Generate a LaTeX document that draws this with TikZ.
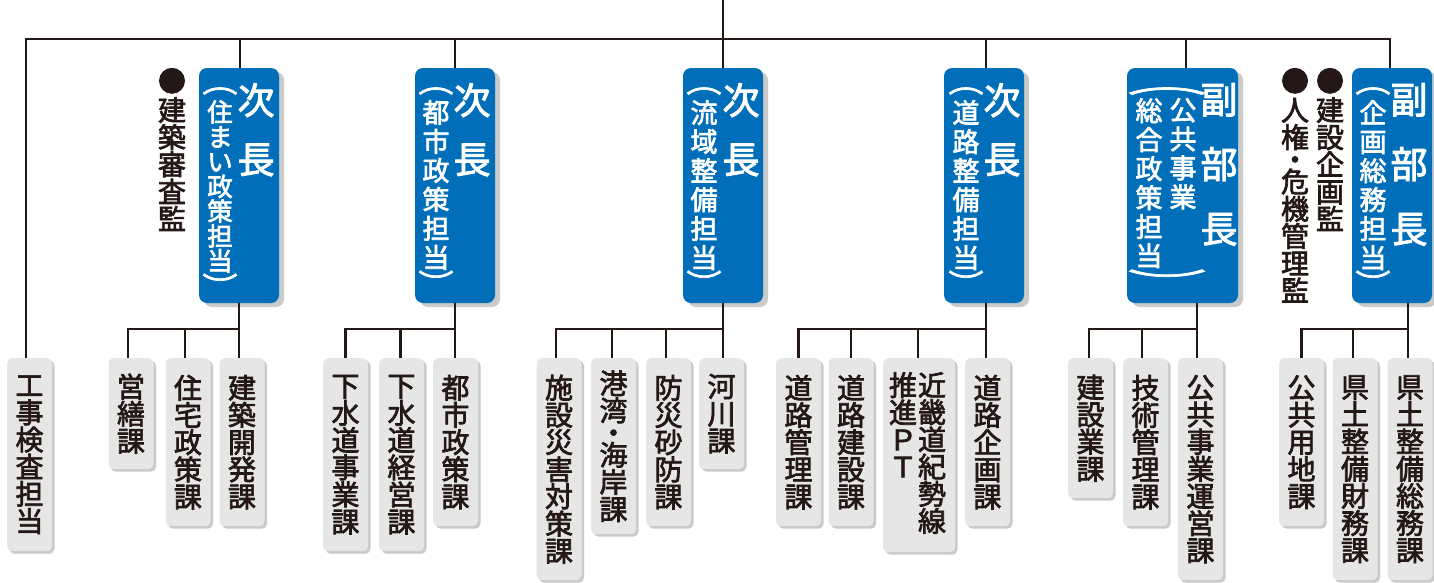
\documentclass[tikz,border=0pt]{standalone}
\usepackage{fontspec}
\newfontfamily\jp{Noto Sans CJK JP}[FakeBold=2.5]
\usetikzlibrary{shadows,calc}
\definecolor{lineC}{HTML}{231815}
\definecolor{blueC}{HTML}{006EB8}
\definecolor{grayC}{HTML}{E6E6E6}
\definecolor{shadowC}{HTML}{C9CACA}
\begin{document}
\begin{tikzpicture}[x=1pt,y=-1pt,
  conn/.style={draw=lineC, line width=2.3pt},
  gbox/.style={rectangle, rounded corners=5pt, fill=grayC, minimum width=45pt, inner sep=0pt,
    align=center, text=lineC, font=\jp\fontsize{28}{27.2}\selectfont, anchor=north,
    general shadow={fill=shadowC, shadow xshift=2.5pt, shadow yshift=-2.5pt}},
  bbox/.style={rectangle, rounded corners=8pt, fill=blueC, inner sep=0pt, minimum height=235pt,
    general shadow={fill=shadowC, shadow xshift=5pt, shadow yshift=-4pt}},
  wcol/.style={text=white, align=center, inner sep=0pt, anchor=north, font=\jp\fontsize{27}{29}\selectfont},
  bigcol/.style={text=white, align=center, inner sep=0pt, anchor=north, font=\jp\fontsize{37}{59}\selectfont},
  paren/.style={text=white, inner sep=0pt, font=\jp\fontsize{27}{27}\selectfont},
  gtext/.style={text=lineC, align=center, inner sep=0pt, anchor=north, font=\jp\fontsize{28}{27.2}\selectfont},
]
\useasboundingbox (0,0) rectangle (1434,582);

% ---------- blue boxes ----------
\node[bbox, minimum width=80pt] (b1) at (239,185.5) {};
\node[bbox, minimum width=80pt] (b2) at (455,185.5) {};
\node[bbox, minimum width=80pt] (b3) at (723,185.5) {};
\node[bbox, minimum width=80pt] (b4) at (984,185.5) {};
\node[bbox, minimum width=111pt] (b5) at (1182.5,185.5) {};
\node[bbox, minimum width=80pt] (b6) at (1392,185.5) {};

% b1
\node[bigcol] (b1big) at (256,83) {次\\長};
\node[wcol, font=\jp\fontsize{25.5}{24.8}\selectfont] (b1sub) at (220,100) {住\\ま\\い\\政\\策\\担\\当};
\node[paren] (b1po) at (220,91) {\scalebox{1.3}[1]{︵}};
\node[paren] (b1pc) at (220,285) {\scalebox{1.3}[1]{︶}};
% b2
\node[bigcol] (b2big) at (472,83) {次\\長};
\node[wcol] (b2sub) at (436,100) {都\\市\\政\\策\\担\\当};
\node[paren] (b2po) at (436,91) {\scalebox{1.3}[1]{︵}};
\node[paren] (b2pc) at (436,282) {\scalebox{1.3}[1]{︶}};
% b3
\node[bigcol] (b3big) at (741,83) {次\\長};
\node[wcol] (b3sub) at (704,100) {流\\域\\整\\備\\担\\当};
\node[paren] (b3po) at (704,91) {\scalebox{1.3}[1]{︵}};
\node[paren] (b3pc) at (704,282) {\scalebox{1.3}[1]{︶}};
% b4
\node[bigcol] (b4big) at (1002,83) {次\\長};
\node[wcol] (b4sub) at (966,100) {道\\路\\整\\備\\担\\当};
\node[paren] (b4po) at (966,91) {\scalebox{1.3}[1]{︵}};
\node[paren] (b4pc) at (966,282) {\scalebox{1.3}[1]{︶}};
% b5
\node[bigcol, font=\jp\fontsize{37}{64.5}\selectfont] (b5big) at (1219,83) {副\\部\\長};
\node[wcol] (b5subA) at (1183,98) {公\\共\\事\\業};
\node[wcol] (b5subB) at (1149,98) {総\\合\\政\\策\\担\\当};
\node[paren] (b5po) at (1167,91) {\scalebox{2.9}[1]{︵}};
\node[paren] (b5pc) at (1167,281) {\scalebox{2.9}[1]{︶}};
% b6
\node[bigcol, font=\jp\fontsize{37}{64.5}\selectfont] (b6big) at (1409,83) {副\\部\\長};
\node[wcol] (b6sub) at (1373,100) {企\\画\\総\\務\\担\\当};
\node[paren] (b6po) at (1373,91) {\scalebox{1.3}[1]{︵}};
\node[paren] (b6pc) at (1373,282) {\scalebox{1.3}[1]{︶}};

% ---------- side notes ----------
\node[gtext] (n1) at (172,68) {●\\[2pt]建\\築\\審\\査\\監};
\node[gtext] (n2) at (1295,68) {●\\[2pt]人\\権\\[-5pt]・\\[-5pt]危\\機\\管\\理\\監};
\node[gtext] (n3) at (1330,68) {●\\[2pt]建\\設\\企\\画\\監};

% ---------- gray boxes ----------
\node[gbox, minimum height=193pt] (k0) at (29.5,358) {工\\事\\検\\査\\担\\当};

\node[gbox, minimum height=111pt] (g11) at (131,358) {営\\繕\\課};
\node[gbox, minimum height=168pt] (g12) at (188,358) {住\\宅\\政\\策\\課};
\node[gbox, minimum height=168pt] (g13) at (242,358) {建\\築\\開\\発\\課};

\node[gbox, minimum height=193pt] (g21) at (345.5,358) {下\\水\\道\\事\\業\\課};
\node[gbox, minimum height=193pt] (g22) at (401.5,358) {下\\水\\道\\経\\営\\課};
\node[gbox, minimum height=168pt] (g23) at (455.5,358) {都\\市\\政\\策\\課};

\node[gbox, minimum height=222pt] (g31) at (559,358) {施\\設\\災\\害\\対\\策\\課};
\node[gbox, minimum height=176pt] (g32) at (613.5,358) {港\\湾\\[-5pt]・\\[-5pt]海\\岸\\課};
\node[gbox, minimum height=168pt] (g33) at (668.5,358) {防\\災\\砂\\防\\課};
\node[gbox, minimum height=111pt] (g34) at (721.5,358) {河\\川\\課};

\node[gbox, minimum height=168pt] (g41) at (798.5,358) {道\\路\\管\\理\\課};
\node[gbox, minimum height=168pt] (g42) at (851,358) {道\\路\\建\\設\\課};
\node[gbox, minimum width=72pt, minimum height=194pt] (g43) at (919,358) {};
\node[gtext] (g43r) at (932,372) {近\\畿\\道\\紀\\勢\\線};
\node[gtext] (g43l) at (903,372) {推\\進\\Ｐ\\Ｔ};
\node[gbox, minimum height=168pt] (g44) at (987.5,358) {道\\路\\企\\画\\課};

\node[gbox, minimum height=140pt] (g51) at (1090.5,358) {建\\設\\業\\課};
\node[gbox, minimum height=168pt] (g52) at (1145.5,358) {技\\術\\管\\理\\課};
\node[gbox, minimum height=222pt] (g53) at (1200.5,358) {公\\共\\事\\業\\運\\営\\課};

\node[gbox, minimum height=168pt] (g61) at (1301.5,358) {公\\共\\用\\地\\課};
\node[gbox, minimum height=222pt] (g62) at (1355,358) {県\\土\\整\\備\\財\\務\\課};
\node[gbox, minimum height=222pt] (g63) at (1410,358) {県\\土\\整\\備\\総\\務\\課};

% ---------- connectors ----------
\coordinate (root) at (723,0);
\coordinate (hub) at (723,39);
\coordinate (busL) at (26,39);
\coordinate (busR) at (1390,39);
\coordinate (row) at (0,329);
\coordinate (p5) at (1197,0);
\coordinate (p6) at (1408,0);

\draw[conn] (root) -- (hub);
\draw[conn] (busL |- k0.north) -- (busL) -- (busR) -- (busR |- b6.north);
\draw[conn] ([xshift=1pt]b1.north) -- ([xshift=1pt]b1.north |- busL);
\draw[conn] (b2.north) -- (b2.north |- busL);
\draw[conn] (b3.north) -- (hub);
\draw[conn] ([xshift=2pt]b4.north) -- ([xshift=2pt]b4.north |- busL);
\draw[conn] ([xshift=3.5pt]b5.north) -- ([xshift=3.5pt]b5.north |- busL);

% group 1
\draw[conn] (b1.south) -- (b1.south |- g13.north);
\draw[conn] ([xshift=-3pt]g11.north) |- (b1.south |- row);
\draw[conn] ([xshift=-3pt]g12.north) -- ([xshift=-3pt]g12.north |- row);
% group 2
\draw[conn] (b2.south) -- (b2.south |- g23.north);
\draw[conn] (g21.north) |- (b2.south |- row);
\draw[conn] ([xshift=-1pt]g22.north) -- ([xshift=-1pt]g22.north |- row);
% group 3
\draw[conn] (b3.south) -- (b3.south |- g34.north);
\draw[conn] ([xshift=-3pt]g31.north) |- (b3.south |- row);
\draw[conn] ([xshift=-1.5pt]g32.north) -- ([xshift=-1.5pt]g32.north |- row);
\draw[conn] ([xshift=-2.5pt]g33.north) -- ([xshift=-2.5pt]g33.north |- row);
% group 4
\draw[conn] ([xshift=2pt]b4.south) -- ([xshift=2pt]b4.south |- g44.north);
\draw[conn] (g41.north) |- ([xshift=2pt]b4.south |- row);
\draw[conn] (g42.north) -- (g42.north |- row);
\draw[conn] ([xshift=-1pt]g43.north) -- ([xshift=-1pt]g43.north |- row);
% group 5
\draw[conn] (p5 |- b5.south) -- (p5 |- g53.north);
\draw[conn] ([xshift=-1.5pt]g51.north) |- (p5 |- row);
\draw[conn] ([xshift=-3.5pt]g52.north) -- ([xshift=-3.5pt]g52.north |- row);
% group 6
\draw[conn] (p6 |- b6.south) -- (p6 |- g63.north);
\draw[conn] (g61.north) |- (p6 |- row);
\draw[conn] ([xshift=-2pt]g62.north) -- ([xshift=-2pt]g62.north |- row);
\end{tikzpicture}
\end{document}
